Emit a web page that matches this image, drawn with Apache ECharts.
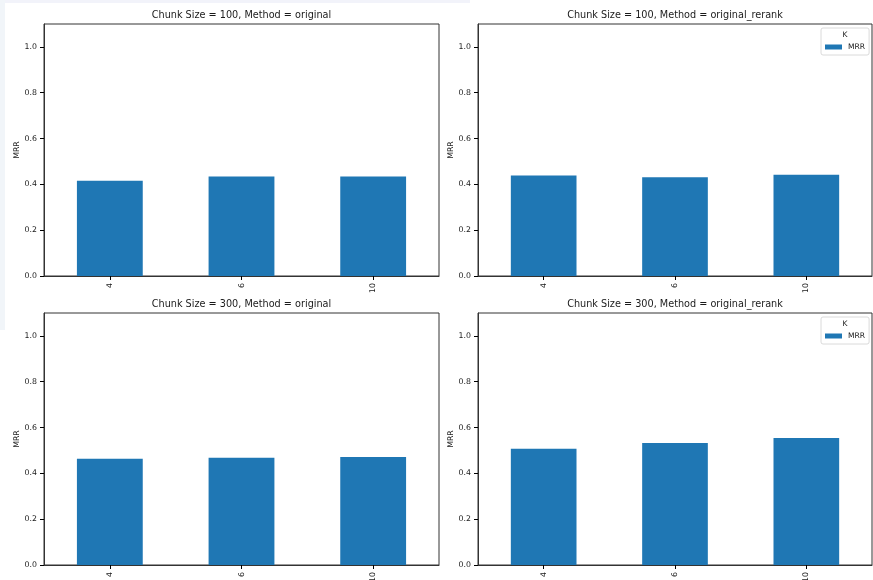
<!DOCTYPE html>
<html>
<head>
<meta charset="utf-8">
<script src="https://cdn.jsdelivr.net/npm/echarts@6/dist/echarts.min.js"></script>
<style>
html,body{margin:0;padding:0;background:#fff;}
#chart{width:873px;height:580px;}
</style>
</head>
<body>
<div id="chart"></div>
<script>
// ---- data ----
var categories = ['4', '6', '10'];
var titles = [
  'Chunk Size = 100, Method = original',
  'Chunk Size = 100, Method = original_rerank',
  'Chunk Size = 300, Method = original',
  'Chunk Size = 300, Method = original_rerank'
];
var mrr_100_original = [0.416, 0.434, 0.434];
var mrr_100_rerank = [0.439, 0.431, 0.442];
var mrr_300_original = [0.464, 0.468, 0.471];
var mrr_300_rerank = [0.507, 0.533, 0.554];
var yTicks = [0, 0.2, 0.4, 0.6, 0.8, 1.0];
var seriesData = [mrr_100_original, mrr_100_rerank, mrr_300_original, mrr_300_rerank];

// ---- layout ----
var grids = [
  {left: 44, top: 24, width: 395, height: 252},
  {left: 478, top: 24, width: 394, height: 252},
  {left: 44, top: 313, width: 395, height: 252},
  {left: 478, top: 313, width: 394, height: 252}
];
var FONT = 'DejaVu Sans';
var TXT = '#1a1a1a';
var AX = '#333333';

var option = {
  animation: false,
  backgroundColor: '#ffffff',
  textStyle: {fontFamily: FONT},
  grid: grids.map(function (g) {
    return {left: g.left, top: g.top, width: g.width, height: g.height, show: true,
      borderColor: AX, borderWidth: 1, containLabel: false, outerBoundsMode: 'none'};
  }),
  xAxis: grids.map(function (g, i) {
    return {
      type: 'category', gridIndex: i, data: categories, boundaryGap: true, z: 5,
      axisLine: {show: true, lineStyle: {color: AX, width: 1}},
      axisTick: {show: true, inside: false, alignWithLabel: true, interval: 0, length: 4, lineStyle: {color: '#000', width: 1}},
      axisLabel: {rotate: 90, fontSize: 7.8, color: TXT, margin: 7, fontFamily: FONT},
      splitLine: {show: false}
    };
  }),
  yAxis: grids.map(function (g, i) {
    return {
      type: 'value', gridIndex: i, min: 0, max: 1.1, z: 5,
      name: 'MRR', nameLocation: 'middle', nameRotate: 90, nameGap: 22,
      nameTextStyle: {fontSize: 7.8, color: TXT, fontFamily: FONT},
      axisLine: {show: true, lineStyle: {color: AX, width: 1}},
      axisTick: {show: true, inside: false, length: 4, customValues: yTicks, lineStyle: {color: '#000', width: 1}},
      axisLabel: {fontSize: 7.8, color: TXT, margin: 7, fontFamily: FONT, customValues: yTicks,
        formatter: function (v) { return v.toFixed(1); }},
      splitLine: {show: false}
    };
  }),
  legend: [
    {data: ['MRR'], left: 821, top: 28, orient: 'vertical', padding: [15, 4, 4, 4],
      itemWidth: 17, itemHeight: 5, itemGap: 4, borderColor: '#d0d0d0', borderWidth: 0.8, borderRadius: 2,
      backgroundColor: '#fff', textStyle: {fontSize: 7.6, color: TXT, fontFamily: FONT, padding: [0, 0, 0, 1]},
      icon: 'rect', selectedMode: false},
    {data: ['MRR'], left: 821, top: 317, orient: 'vertical', padding: [15, 4, 4, 4],
      itemWidth: 17, itemHeight: 5, itemGap: 4, borderColor: '#d0d0d0', borderWidth: 0.8, borderRadius: 2,
      backgroundColor: '#fff', textStyle: {fontSize: 7.6, color: TXT, fontFamily: FONT, padding: [0, 0, 0, 1]},
      icon: 'rect', selectedMode: false}
  ],
  graphic: [],
  series: seriesData.map(function (d, i) {
    return {type: 'bar', name: 'MRR', xAxisIndex: i, yAxisIndex: i, data: d,
      barWidth: '50%', itemStyle: {color: '#1f77b4'}};
  })
};

// subtle screenshot tint strips
option.graphic.push({type: 'rect', z: -10, shape: {x: 0, y: 0, width: 470, height: 3}, style: {fill: '#f2f3fa'}, silent: true});
option.graphic.push({type: 'rect', z: -10, shape: {x: 0, y: 0, width: 5, height: 330}, style: {fill: '#f1f5f9'}, silent: true});

// panel titles
grids.forEach(function (g, i) {
  option.graphic.push({type: 'text', x: g.left + g.width / 2, y: g.top - 9,
    style: {text: titles[i], fontSize: 9.7, fontFamily: FONT, fill: TXT, align: 'center', verticalAlign: 'middle'}});
});
// legend titles "K"
[28, 317].forEach(function (t) {
  option.graphic.push({type: 'text', x: 845, y: t + 7, z: 100,
    style: {text: 'K', fontSize: 7.6, fontFamily: FONT, fill: TXT, align: 'center', verticalAlign: 'middle'}});
});

var chart = echarts.init(document.getElementById('chart'), null, {renderer: 'canvas'});
chart.setOption(option);
</script>
</body>
</html>
